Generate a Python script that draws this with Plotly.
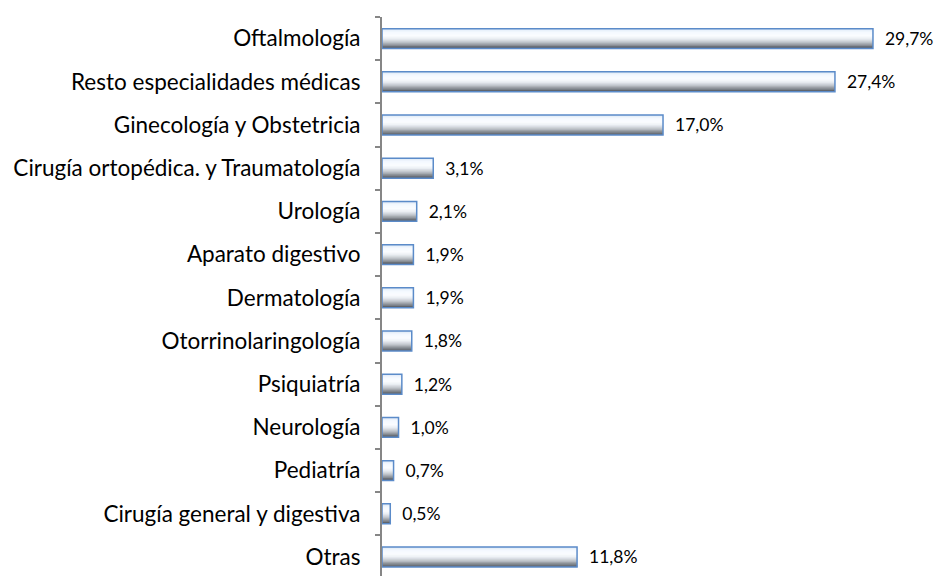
import plotly.graph_objects as go

categories = [
    "Oftalmología",
    "Resto especialidades médicas",
    "Ginecología y Obstetricia",
    "Cirugía ortopédica. y Traumatología",
    "Urología",
    "Aparato digestivo",
    "Dermatología",
    "Otorrinolaringología",
    "Psiquiatría",
    "Neurología",
    "Pediatría",
    "Cirugía general y digestiva",
    "Otras",
]
values = [29.7, 27.4, 17.0, 3.1, 2.1, 1.9, 1.9, 1.8, 1.2, 1.0, 0.7, 0.5, 11.8]
value_labels = ["29,7%", "27,4%", "17,0%", "3,1%", "2,1%", "1,9%", "1,9%",
                "1,8%", "1,2%", "1,0%", "0,7%", "0,5%", "11,8%"]

# gradient stops of the bar fill, top -> bottom
GRAD_STOPS = [(0.0, (222, 233, 246)), (0.15, (244, 249, 255)), (0.35, (250, 252, 255)),
              (0.5, (236, 240, 245)), (0.7, (190, 195, 201)), (0.88, (128, 134, 141)),
              (1.0, (96, 101, 108))]
N_STRIPES = 24
BAR_W = 0.46


def grad_color(t):
    for (t0, c0), (t1, c1) in zip(GRAD_STOPS, GRAD_STOPS[1:]):
        if t <= t1:
            f = (t - t0) / (t1 - t0)
            r, g, b = (round(a + (b_ - a) * f) for a, b_ in zip(c0, c1))
            return f"rgb({r},{g},{b})"
    return "rgb(%d,%d,%d)" % GRAD_STOPS[-1][1]


fig = go.Figure()

# each stripe runs to the bottom of the bar so the next one covers it -> no gaps
step = BAR_W / N_STRIPES
for i in range(N_STRIPES):
    fig.add_trace(go.Bar(
        y=categories, x=values, orientation="h",
        width=BAR_W - i * step, offset=-BAR_W / 2 + i * step,
        marker=dict(color=grad_color(i / (N_STRIPES - 1)), line=dict(width=0)),
        hoverinfo="skip", showlegend=False,
    ))

# outline + value labels
fig.add_trace(go.Bar(
    y=categories, x=values, orientation="h",
    width=BAR_W, offset=-BAR_W / 2,
    marker=dict(color="rgba(0,0,0,0)", line=dict(color="#5b8bc9", width=1.5)),
    text=["  " + t for t in value_labels], textposition="outside",
    constraintext="none",
    textfont=dict(family="Lato, sans-serif", size=17.5, color="#000000"),
    cliponaxis=False, showlegend=False,
))

# page body adds an 8px margin, so the figure is a bit smaller than the window
fig.update_layout(
    width=942, height=568,
    margin=dict(l=374, r=0, t=9, b=0),
    barmode="overlay",
    plot_bgcolor="white", paper_bgcolor="white",
    font=dict(family="Lato, sans-serif", size=22.5, color="#000000"),
    xaxis=dict(range=[0, 34.36], showgrid=False, zeroline=False,
               showticklabels=False, showline=False),
    yaxis=dict(type="category", range=[12.44, -0.5], showgrid=False,
               showline=True, linecolor="#868686", linewidth=2,
               ticks="outside", tickson="boundaries", ticklen=5,
               tickcolor="#868686", tickwidth=2, ticklabelstandoff=15,
               automargin=False),
)

fig.write_html("out.html")
